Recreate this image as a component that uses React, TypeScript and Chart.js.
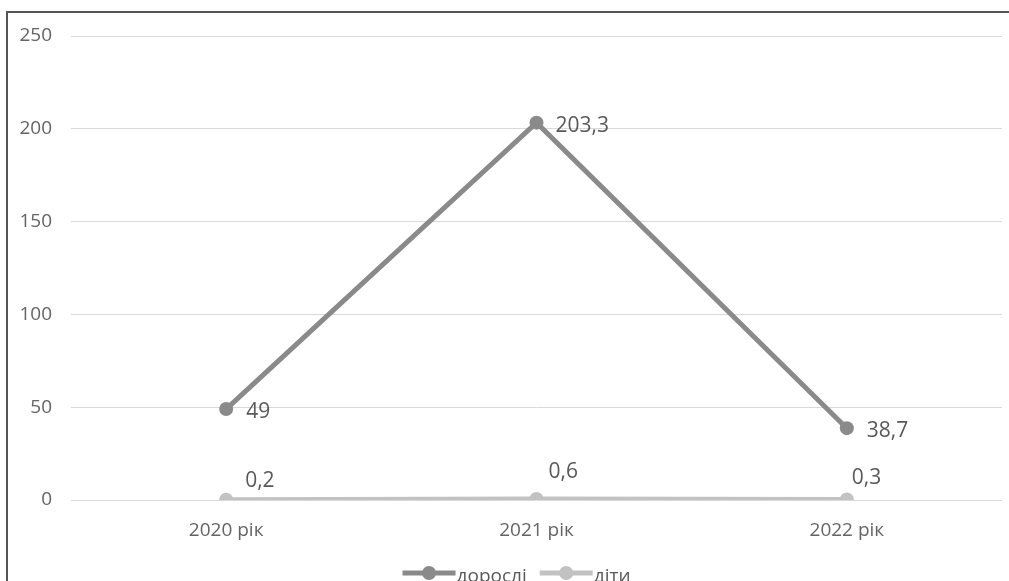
import React, { useEffect, useRef } from "react";
import { Chart, registerables } from "chart.js";

Chart.register(...registerables);

const categories = ["2020 рік", "2021 рік", "2022 рік"];
const adults = [49, 203.3, 38.7];
const children = [0.2, 0.6, 0.3];
const seriesNames = ["дорослі", "діти"];
const yTicks = [0, 50, 100, 150, 200, 250];

// label placement (style): [dx, dy] per series per point
const labelOffsets = [
  [[20, 3], [19, 3], [20, 3]],
  [[19, -19], [12, -27], [5, -21]],
];

const ADULT_COLOR = "#8a8a8a";
const CHILD_COLOR = "#c2c2c2";
const TEXT_COLOR = "#595959";
const AXIS_TEXT = "#646464";
const FONT = "'Open Sans', sans-serif";

const fmt = (v: number) => String(v).replace(".", ",");

const labelPlugin = {
  id: "valueLabels",
  afterDatasetsDraw(chart: any) {
    const ctx = chart.ctx;
    ctx.save();
    ctx.font = `21px ${FONT}`;
    ctx.fillStyle = TEXT_COLOR;
    ctx.textAlign = "left";
    ctx.textBaseline = "middle";
    chart.data.datasets.forEach((ds: any, di: number) => {
      const meta = chart.getDatasetMeta(di);
      meta.data.forEach((pt: any, i: number) => {
        const [dx, dy] = labelOffsets[di][i];
        ctx.fillText(fmt(ds.data[i]), pt.x + dx, pt.y + dy);
      });
    });
    ctx.restore();
  },
};

const legendPlugin = {
  id: "lineLegend",
  afterDraw(chart: any) {
    const ctx = chart.ctx;
    const area = chart.chartArea;
    ctx.save();
    ctx.font = `19px ${FONT}`;
    const markerW = 53;
    const textGap = 1;
    const itemGap = 13;
    const items = chart.data.datasets.map((ds: any) => ({
      text: ds.label,
      color: ds.borderColor,
      w: markerW + textGap + ctx.measureText(ds.label).width,
    }));
    const total =
      items.reduce((s: number, it: any) => s + it.w, 0) + itemGap * (items.length - 1);
    const cx = (area.left + area.right) / 2 - 20;
    let x = cx - total / 2;
    const markerY = area.bottom + 73;
    const textY = area.bottom + 82;
    items.forEach((it: any) => {
      ctx.strokeStyle = it.color;
      ctx.lineWidth = 5;
      ctx.beginPath();
      ctx.moveTo(x, markerY);
      ctx.lineTo(x + markerW, markerY);
      ctx.stroke();
      ctx.fillStyle = it.color;
      ctx.beginPath();
      ctx.arc(x + markerW / 2, markerY, 7, 0, Math.PI * 2);
      ctx.fill();
      ctx.fillStyle = TEXT_COLOR;
      ctx.textAlign = "left";
      ctx.textBaseline = "alphabetic";
      ctx.fillText(it.text, x + markerW + textGap, textY);
      x += it.w + itemGap;
    });
    ctx.restore();
  },
};

export default function App() {
  const ref = useRef<HTMLCanvasElement>(null);
  useEffect(() => {
    if (!ref.current) return;
    Chart.defaults.font.family = FONT;
    const chart = new Chart(ref.current, {
      type: "line",
      data: {
        labels: categories,
        datasets: [
          {
            label: seriesNames[0],
            data: adults,
            borderColor: ADULT_COLOR,
            backgroundColor: ADULT_COLOR,
            borderWidth: 5,
            pointRadius: 7,
            pointHoverRadius: 7,
            pointBorderWidth: 0,
            tension: 0,
          },
          {
            label: seriesNames[1],
            data: children,
            borderColor: CHILD_COLOR,
            backgroundColor: CHILD_COLOR,
            borderWidth: 5,
            pointRadius: 7,
            pointHoverRadius: 7,
            pointBorderWidth: 0,
            tension: 0,
          },
        ],
      },
      options: {
        animation: false,
        responsive: false,
        maintainAspectRatio: false,
        layout: { padding: { top: 36, right: 7, left: 0, bottom: 41 } },
        plugins: {
          tooltip: { enabled: false },
          legend: { display: false },
        },
        scales: {
          x: {
            offset: true,
            grid: { display: false, drawTicks: false },
            border: { display: false },
            ticks: { color: AXIS_TEXT, font: { size: 19 }, padding: 19 },
            afterFit: (s: any) => {
              s.height = 40;
            },
          },
          y: {
            min: 0,
            max: 250,
            afterBuildTicks: (s: any) => {
              s.ticks = yTicks.map((v) => ({ value: v }));
            },
            afterFit: (s: any) => {
              s.width = 71;
            },
            grid: { color: "#d9d9d9", lineWidth: 1, drawTicks: false },
            border: { display: false },
            ticks: { color: AXIS_TEXT, font: { size: 19 }, padding: 19 },
          },
        },
      },
      plugins: [labelPlugin, legendPlugin],
    });
    return () => chart.destroy();
  }, []);

  return (
    <div
      style={{
        position: "fixed",
        left: 0,
        top: 0,
        width: 1009,
        height: 581,
        overflow: "hidden",
        background: "#fff",
      }}
    >
      <canvas ref={ref} width={1009} height={581} style={{ display: "block" }} />
      <div
        style={{
          position: "absolute",
          left: 6,
          top: 11,
          right: -10,
          bottom: -10,
          borderTop: "2px solid #555",
          borderLeft: "2px solid #555",
          pointerEvents: "none",
        }}
      />
    </div>
  );
}
